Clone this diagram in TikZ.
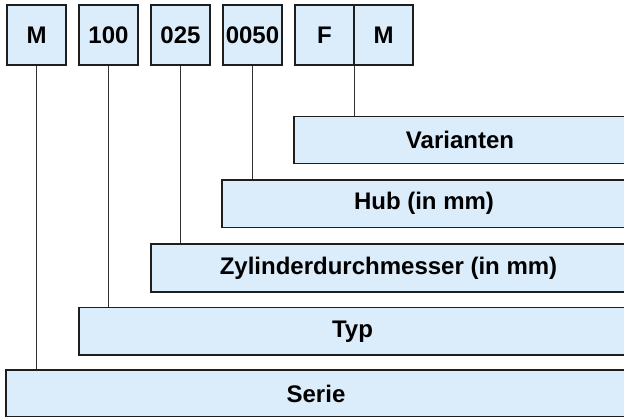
\documentclass[tikz,border=0pt]{standalone}
\usepackage{fontspec}
\setmainfont{Liberation Sans}
\definecolor{boxfill}{RGB}{219,236,251}
\definecolor{boxline}{RGB}{30,30,30}
\definecolor{conline}{RGB}{50,50,50}
\begin{document}
\begin{tikzpicture}[x=1pt,y=-1pt,
  codebox/.style={draw=boxline,fill=boxfill,line width=1.4pt,rectangle,inner sep=0pt,
    minimum width=59pt,minimum height=60pt,font=\fontsize{24}{28}\selectfont\bfseries},
  barbox/.style={draw=boxline,fill=boxfill,line width=1.4pt,rectangle,inner sep=0pt,
    font=\fontsize{24}{28}\selectfont\bfseries},
  conn/.style={draw=conline,line width=1.3pt}]
\useasboundingbox (0,0) rectangle (624,416);
\clip (0,0) rectangle (624,416);
% code boxes
\node[codebox] (m)    at (36.5,35)  {M};
\node[codebox] (t100) at (108.5,35) {100};
\node[codebox] (t025) at (180.5,35) {025};
\node[codebox] (t050) at (252.5,35) {0050};
\node[codebox] (f)    at (324.5,35) {F};
\node[codebox] (m2)   at (383.5,35) {M};
% bars
\node[barbox,minimum width=332pt,minimum height=47pt] (var) at (460,140) {Varianten};
\node[barbox,minimum width=404pt,minimum height=47.5pt] (hub) at (424,203.75) {Hub (in mm)};
\node[barbox,minimum width=475pt,minimum height=48pt] (zyl) at (388.5,268) {Zylinderdurchmesser (in mm)};
\node[barbox,minimum width=547pt,minimum height=47.5pt] (typ) at (352.5,331.25) {Typ};
\node[barbox,minimum width=620pt,minimum height=47pt] (serie) at (316,393.5) {Serie};
% connectors
\draw[conn] (m.south) -- (m.south |- serie.north);
\draw[conn] (t100.south) -- (t100.south |- typ.north);
\draw[conn] (t025.south) -- (t025.south |- zyl.north);
\draw[conn] (t050.south) -- (t050.south |- hub.north);
\draw[conn] (f.south east) -- (f.south east |- var.north);
\end{tikzpicture}
\end{document}
